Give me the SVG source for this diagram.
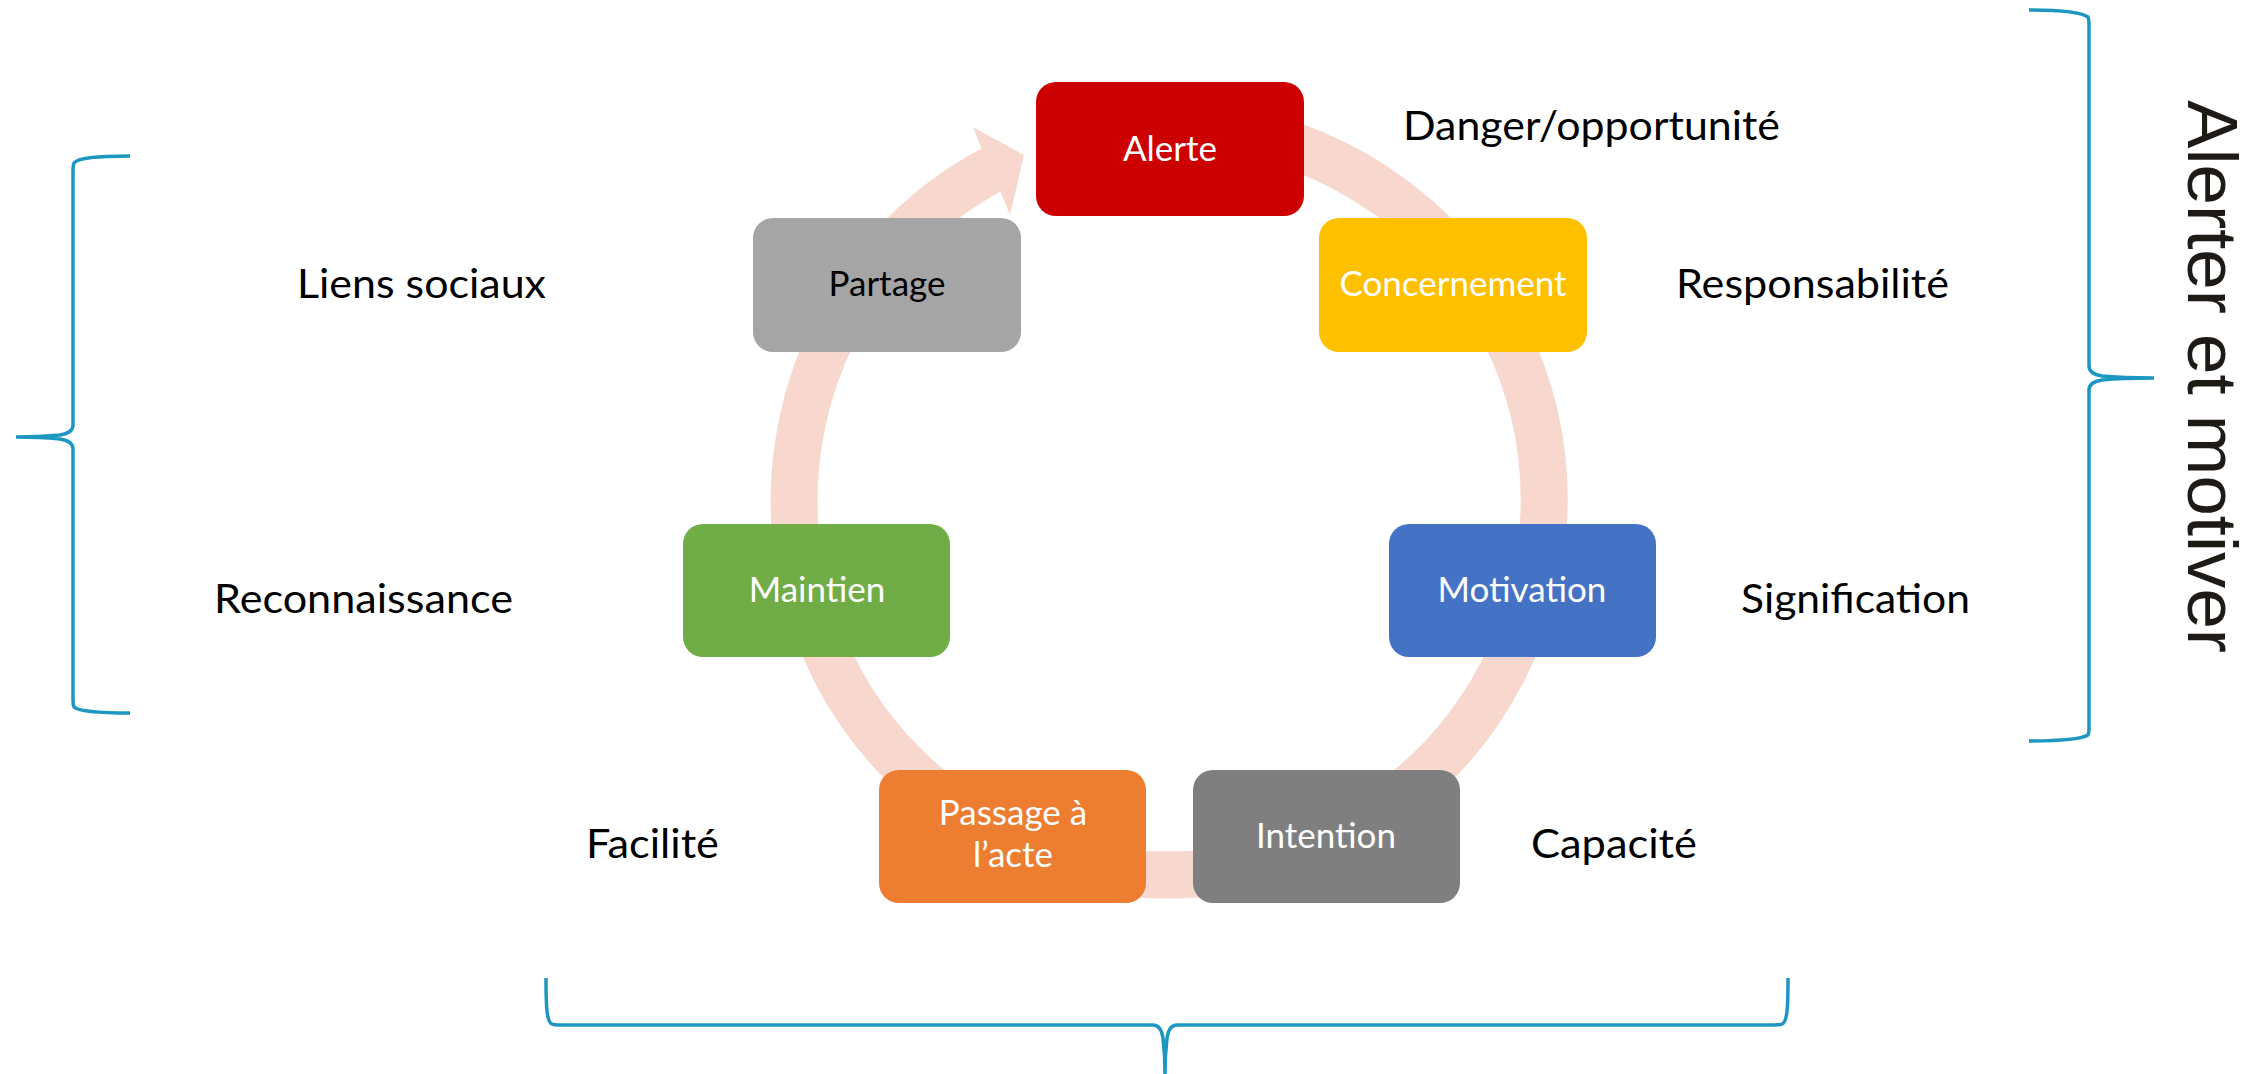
<svg xmlns="http://www.w3.org/2000/svg" width="2264" height="1074" viewBox="0 0 2264 1074">
<style>
.box{stroke:none}
.nt{font-family:Lato,"Liberation Sans",sans-serif;font-size:35px;fill:#fff;text-anchor:middle}
.lb{font-family:Lato,"Liberation Sans",sans-serif;font-size:41px;fill:#000}
.br{fill:none;stroke:#1C97C2;stroke-width:3.5;stroke-linecap:butt}
.ring{fill:none;stroke:#F8D8CE;stroke-width:47}
</style>
<rect width="2264" height="1074" fill="#fff"/>
<g id="connectors">
<path class="ring" d="M 1234.6 130.7 A 375 375 0 1 1 995.9 167.4"/>
<polygon fill="#F8D8CE" points="973,127 1024,155 1010,215 1001,193 982,150"/>
</g>
<g id="node-alerte"><rect class="box" x="1036" y="82" width="268" height="134" rx="20" fill="#CC0000"/><text class="nt" x="1170" y="161">Alerte</text></g>
<g id="node-concernement"><rect class="box" x="1319" y="218" width="268" height="134" rx="20" fill="#FFC000"/><text class="nt" x="1453" y="296">Concernement</text></g>
<g id="node-motivation"><rect class="box" x="1389" y="524" width="267" height="133" rx="20" fill="#4472C4"/><text class="nt" x="1522" y="602">Motivation</text></g>
<g id="node-intention"><rect class="box" x="1193" y="770" width="267" height="133" rx="20" fill="#7F7F7F"/><text class="nt" x="1326" y="848">Intention</text></g>
<g id="node-passage"><rect class="box" x="879" y="770" width="267" height="133" rx="20" fill="#ED7D31"/><text class="nt" x="1013" y="825">Passage à</text><text class="nt" x="1013" y="867">l’acte</text></g>
<g id="node-maintien"><rect class="box" x="683" y="524" width="267" height="133" rx="20" fill="#70AD47"/><text class="nt" x="817" y="602">Maintien</text></g>
<g id="node-partage"><rect class="box" x="753" y="218" width="268" height="134" rx="20" fill="#A5A5A5"/><text class="nt" x="887" y="296" style="fill:#000">Partage</text></g>
<g id="labels">
<text class="lb" x="1403" y="140" textLength="377" lengthAdjust="spacingAndGlyphs">Danger/opportunité</text>
<text class="lb" x="1676" y="298" textLength="273" lengthAdjust="spacingAndGlyphs">Responsabilité</text>
<text class="lb" x="1741" y="613" textLength="229" lengthAdjust="spacingAndGlyphs">Signification</text>
<text class="lb" x="1531" y="858" textLength="166" lengthAdjust="spacingAndGlyphs">Capacité</text>
<text class="lb" x="586" y="858" textLength="133" lengthAdjust="spacingAndGlyphs">Facilité</text>
<text class="lb" x="214" y="613" textLength="299" lengthAdjust="spacingAndGlyphs">Reconnaissance</text>
<text class="lb" x="297" y="298" textLength="249" lengthAdjust="spacingAndGlyphs">Liens sociaux</text>
<text transform="translate(2188,100) rotate(90)" font-family="'Liberation Sans',sans-serif" font-size="70" fill="#1E1B16" textLength="553" lengthAdjust="spacingAndGlyphs">Alerter et motiver</text>
</g>
<g id="braces">
<path class="br" d="M 130 156 C 95 156 78 158 74 163 Q 73 165 73 170 L 73 425 Q 73 433 60 435 Q 40 437 16 437 Q 40 437 60 439 Q 73 441 73 449 L 73 700 Q 73 705 74 707 C 78 711 95 713 130 713"/>
<path class="br" d="M 2029 10 C 2064 10 2081 12 2088 17 Q 2089 19 2089 24 L 2089 366 Q 2089 374 2102 376 Q 2122 378 2154 378 Q 2122 378 2102 380 Q 2089 382 2089 390 L 2089 728 Q 2089 733 2088 735 C 2081 739 2064 741 2029 741"/>
<path class="br" d="M 546 978 C 546 1010 547 1022 552 1024 Q 554 1025 560 1025 L 1153 1025 Q 1161 1025 1163 1038 Q 1165 1055 1165 1074 Q 1165 1055 1167 1038 Q 1169 1025 1177 1025 L 1774 1025 Q 1780 1025 1782 1024 C 1787 1022 1788 1010 1788 978"/>
</g>
</svg>
